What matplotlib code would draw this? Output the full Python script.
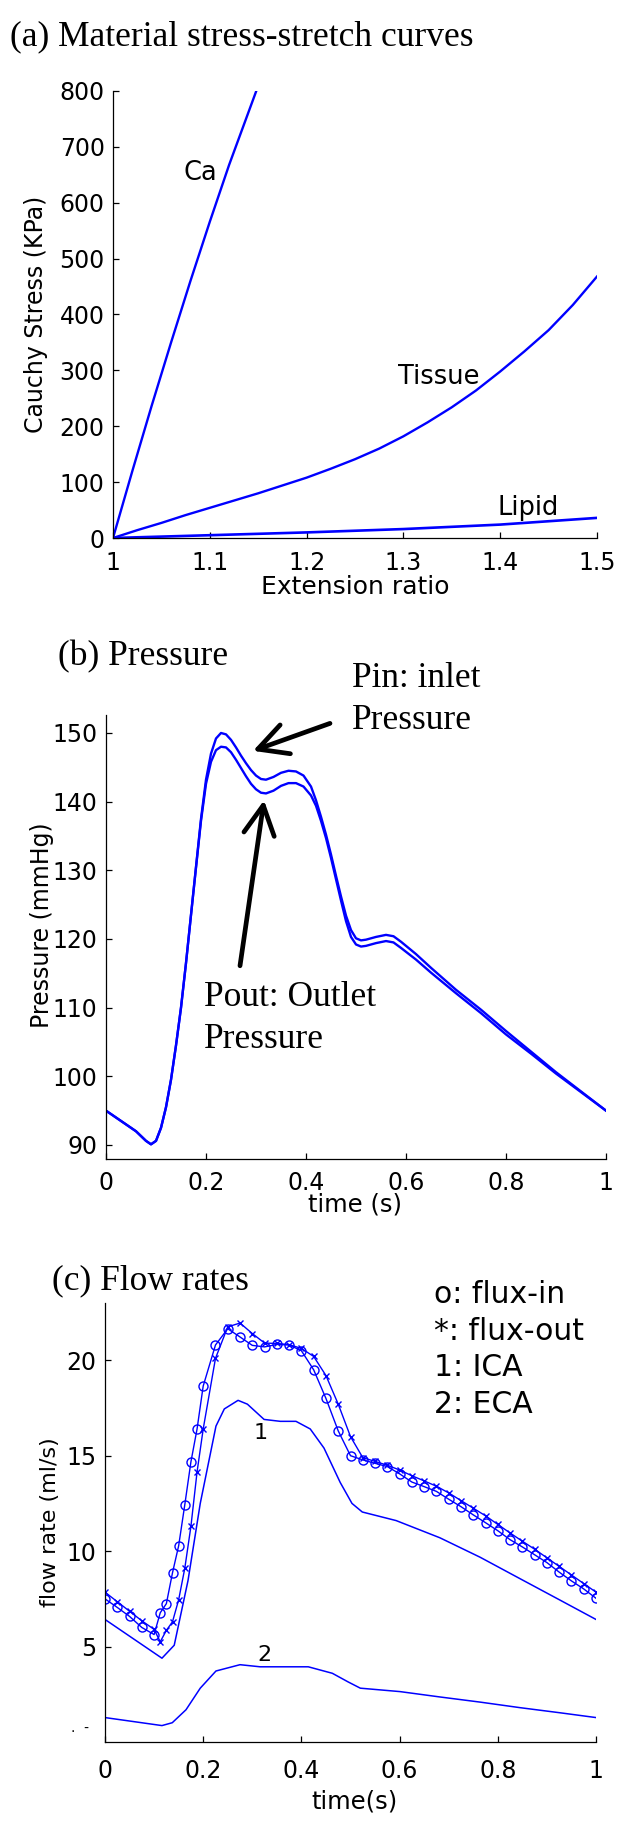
import numpy as np
import matplotlib
matplotlib.use('Agg')
import matplotlib.pyplot as plt

# ---- (a) material stress-stretch curves (KPa)
ca_x = [1.0, 1.02, 1.04, 1.06, 1.08, 1.10, 1.12, 1.148]
ca_y = [0, 120, 237, 350, 460, 566, 668, 800]
tissue_x = [1.0, 1.025, 1.05, 1.075, 1.1, 1.125, 1.15, 1.175, 1.2, 1.225,
            1.25, 1.275, 1.3, 1.325, 1.35, 1.375, 1.4, 1.425, 1.45, 1.475, 1.5]
tissue_y = [0, 14, 27, 41, 54, 67, 80, 94, 108, 124, 141, 160, 182, 207, 234,
            264, 298, 334, 372, 417, 468]
lipid_x = [1.0, 1.1, 1.2, 1.3, 1.4, 1.5]
lipid_y = [0, 5, 10, 16, 24, 36]

# ---- (b) pressure (mmHg)
t_p = [0, 0.03, 0.06, 0.08, 0.09, 0.1, 0.11, 0.12, 0.13, 0.14, 0.15, 0.16,
       0.17, 0.18, 0.19, 0.2, 0.21, 0.22, 0.23, 0.24, 0.25, 0.26, 0.27, 0.28,
       0.29, 0.3, 0.31, 0.32, 0.335, 0.35, 0.365, 0.38, 0.395, 0.41, 0.42,
       0.43, 0.44, 0.45, 0.46, 0.47, 0.48, 0.49, 0.5, 0.51, 0.52, 0.54, 0.56,
       0.575, 0.59, 0.62, 0.65, 0.7, 0.75, 0.8, 0.85, 0.9, 0.95, 1.0]
p_in = [95.0, 93.5, 92.0, 90.6, 90.1, 90.6, 92.5, 95.5, 99.5, 104.5, 110.0,
        116.5, 123.5, 130.5, 137.5, 143.2, 147.0, 149.2, 150.0, 149.8, 149.0,
        147.9, 146.7, 145.6, 144.6, 143.8, 143.3, 143.2, 143.6, 144.2, 144.5,
        144.4, 143.8, 142.2, 140.2, 137.8, 135.2, 132.3, 129.2, 126.2, 123.4,
        121.3, 120.1, 119.8, 119.9, 120.3, 120.6, 120.4, 119.6, 117.8, 115.8,
        112.6, 109.7, 106.6, 103.6, 100.6, 97.8, 95.0]
p_out = [95.0, 93.5, 92.0, 90.6, 90.1, 90.6, 92.5, 95.5, 99.5, 104.5, 110.0,
         116.5, 123.5, 130.4, 137.2, 142.6, 145.8, 147.5, 148.0, 147.9, 147.2,
         146.1, 144.9, 143.7, 142.6, 141.8, 141.3, 141.2, 141.6, 142.3, 142.7,
         142.7, 142.2, 140.9, 139.4, 137.2, 134.7, 131.8, 128.7, 125.6, 122.6,
         120.3, 119.2, 118.9, 119.0, 119.4, 119.7, 119.5, 118.7, 117.0, 115.1,
         112.1, 109.2, 106.1, 103.3, 100.4, 97.7, 95.0]

# ---- (c) flow rates (ml/s)
t_flux = [0, 0.025, 0.05, 0.075, 0.1, 0.1125, 0.125, 0.1375, 0.15, 0.1625,
          0.175, 0.1875, 0.2, 0.225, 0.25, 0.275, 0.3, 0.325, 0.35, 0.375, 0.4,
          0.425, 0.45, 0.475, 0.5, 0.525, 0.55, 0.575, 0.6, 0.625, 0.65, 0.675,
          0.7, 0.725, 0.75, 0.775, 0.8, 0.825, 0.85, 0.875, 0.9, 0.925, 0.95,
          0.975, 1.0]
flux_in = [7.5, 7.05, 6.58, 6.0, 5.63, 6.77, 7.25, 8.87, 10.28, 12.43, 14.68,
           16.4, 18.65, 20.8, 21.65, 21.22, 20.78, 20.7, 20.83, 20.8, 20.5,
           19.5, 18.0, 16.3, 15.0, 14.78, 14.6, 14.43, 14.05, 13.62, 13.38,
           13.13, 12.72, 12.33, 11.9, 11.49, 11.07, 10.6, 10.22, 9.81, 9.4,
           8.9, 8.44, 8.02, 7.53]
flux_out = [7.85, 7.35, 6.85, 6.35, 5.9, 5.25, 5.85, 6.3, 7.45, 9.1, 11.3,
            14.15, 16.4, 20.1, 21.75, 21.95, 21.4, 20.9, 20.88, 20.82, 20.62,
            20.2, 19.2, 17.7, 16.0, 14.9, 14.7, 14.5, 14.25, 13.95, 13.68,
            13.4, 13.05, 12.65, 12.25, 11.85, 11.4, 10.95, 10.52, 10.1, 9.65,
            9.2, 8.75, 8.3, 7.85]
t_ica = [0, 0.116, 0.141, 0.169, 0.194, 0.226, 0.243, 0.271, 0.29, 0.324,
         0.357, 0.389, 0.418, 0.446, 0.479, 0.503, 0.524, 0.593, 0.682, 0.764,
         0.845, 0.927, 1.0]
ica = [6.42, 4.39, 5.07, 8.45, 12.5, 16.55, 17.45, 17.9, 17.7, 16.9, 16.8,
       16.8, 16.4, 15.4, 13.6, 12.5, 12.05, 11.6, 10.7, 9.68, 8.56, 7.43, 6.42]
t_eca = [0, 0.116, 0.137, 0.165, 0.194, 0.226, 0.275, 0.316, 0.414, 0.463,
         0.495, 0.52, 0.601, 0.682, 0.764, 0.845, 0.927, 1.0]
eca = [1.28, 0.86, 1.01, 1.69, 2.82, 3.72, 4.05, 3.94, 3.94, 3.6, 3.15, 2.82,
       2.64, 2.36, 2.09, 1.8, 1.53, 1.28]

time_ticks = [0, 0.2, 0.4, 0.6, 0.8, 1]
time_labels = ['0', '0.2', '0.4', '0.6', '0.8', '1']

W, H = 624, 1826
BLUE = '#0000ff'
SANS = 'DejaVu Sans'
SERIF = 'Liberation Serif'

plt.rcParams['font.family'] = SANS

fig = plt.figure(figsize=(W / 100, H / 100), dpi=100)


def box(l, t, r, b):
    # pixel box -> figure fraction
    return [l / W, 1 - b / H, (r - l) / W, (b - t) / H]


def ftext(x, y, s, **kw):
    fig.text(x / W, 1 - y / H, s, **kw)


def style(ax, xpad):
    for side in ('top', 'right'):
        ax.spines[side].set_visible(False)
    for side in ('left', 'bottom'):
        ax.spines[side].set_linewidth(0.9)
    ax.tick_params(direction='in', length=4, width=0.9, labelsize=17)
    ax.tick_params(axis='y', pad=6)
    ax.tick_params(axis='x', pad=xpad)


# (a)
ax1 = fig.add_axes(box(113, 91, 597, 538))
ax1.plot(ca_x, ca_y, color=BLUE, lw=1.7)
ax1.plot(tissue_x, tissue_y, color=BLUE, lw=1.7)
ax1.plot(lipid_x, lipid_y, color=BLUE, lw=1.9)
ax1.set_xlim(1, 1.5)
ax1.set_ylim(0, 800)
ax1.set_xticks([1, 1.1, 1.2, 1.3, 1.4, 1.5])
ax1.set_xticklabels(['1', '1.1', '1.2', '1.3', '1.4', '1.5'])
ax1.set_yticks(range(0, 801, 100))
style(ax1, 9)
ax1.set_xlabel('Extension ratio', fontsize=18, va='center')
ax1.xaxis.set_label_coords(0.5, -(587 - 538) / 447)
ax1.set_ylabel('Cauchy Stress (KPa)', fontsize=17, va='center')
ax1.yaxis.set_label_coords((36 - 113) / 484, 0.5)
ax1.text(1.0899, 653, 'Ca', fontsize=18.5, ha='center', va='center')
ax1.text(1.3368, 288, 'Tissue', fontsize=18.5, ha='center', va='center')
ax1.text(1.4287, 54, 'Lipid', fontsize=18.5, ha='center', va='center')
ftext(10, 37, '(a) Material stress-stretch curves', family=SERIF,
      fontsize=25.5, va='center')

# (b)
ax2 = fig.add_axes(box(106, 715, 606, 1159))
ax2.plot(t_p, p_in, color=BLUE, lw=1.7)
ax2.plot(t_p, p_out, color=BLUE, lw=1.7)
ax2.set_xlim(0, 1)
ax2.set_ylim(87.96, 152.62)
ax2.set_xticks(time_ticks)
ax2.set_xticklabels(time_labels)
ax2.set_yticks(range(90, 151, 10))
style(ax2, 8.5)
ax2.set_xlabel('time (s)', fontsize=17.5, va='center')
ax2.xaxis.set_label_coords(0.498, -(1204 - 1159) / 444)
ax2.set_ylabel('Pressure (mmHg)', fontsize=17, va='center')
ax2.yaxis.set_label_coords((42 - 106) / 500, (1159 - 925) / 444)
arrow = dict(arrowstyle='->,head_length=1.05,head_width=0.55', lw=3.4,
             color='black', shrinkA=0, shrinkB=0, mutation_scale=20)
ax2.annotate('', xy=(0.294, 147.4), xytext=(0.448, 151.4), arrowprops=arrow)
ax2.annotate('', xy=(0.316, 140.2), xytext=(0.268, 116.1), arrowprops=arrow)
ftext(58, 657, '(b) Pressure', family=SERIF, fontsize=25.5, va='center')
ftext(352, 687, 'Pin: inlet', family=SERIF, fontsize=25.5, va='baseline')
ftext(352, 729, 'Pressure', family=SERIF, fontsize=25.5, va='baseline')
ftext(204, 1006, 'Pout: Outlet', family=SERIF, fontsize=25.5, va='baseline')
ftext(204, 1048, 'Pressure', family=SERIF, fontsize=25.5, va='baseline')

# (c)
ax3 = fig.add_axes(box(105, 1303, 596, 1742))
ax3.plot(t_flux, flux_in, color=BLUE, lw=1.0, marker='o', ms=6.5,
         mfc='none', mec=BLUE, mew=1.0)
ax3.plot(t_flux, flux_out, color=BLUE, lw=1.0, marker='x', ms=4.5,
         mec=BLUE, mew=1.0)
ax3.plot(t_ica, ica, color=BLUE, lw=1.1)
ax3.plot(t_eca, eca, color=BLUE, lw=1.1)
ax3.set_xlim(0, 1)
ax3.set_ylim(0, 23)
ax3.set_xticks(time_ticks)
ax3.set_xticklabels(time_labels)
ax3.set_yticks([5, 10, 15, 20])
style(ax3, 12)
ax3.set_xlabel('time(s)', fontsize=17.5, va='center')
ax3.xaxis.set_label_coords(0.509, -(1801 - 1742) / 439)
ax3.set_ylabel('flow rate (ml/s)', fontsize=16, va='center')
ax3.yaxis.set_label_coords((50 - 105) / 491, 0.5)
ax3.text(0.316, 16.2, '1', fontsize=16, ha='center', va='center')
ax3.text(0.324, 4.55, '2', fontsize=16, ha='center', va='center')
ftext(80, 1728, '.  -', fontsize=10, ha='center', va='center')
ftext(52, 1281, '(c) Flow rates', family=SERIF, fontsize=25.5, va='center')
for yb, s in zip([1303, 1340, 1376, 1413],
                 ['o: flux-in', '*: flux-out', '1: ICA', '2: ECA']):
    ftext(434, yb, s, fontsize=21.5, va='baseline')

fig.savefig('out.png', dpi=100)
